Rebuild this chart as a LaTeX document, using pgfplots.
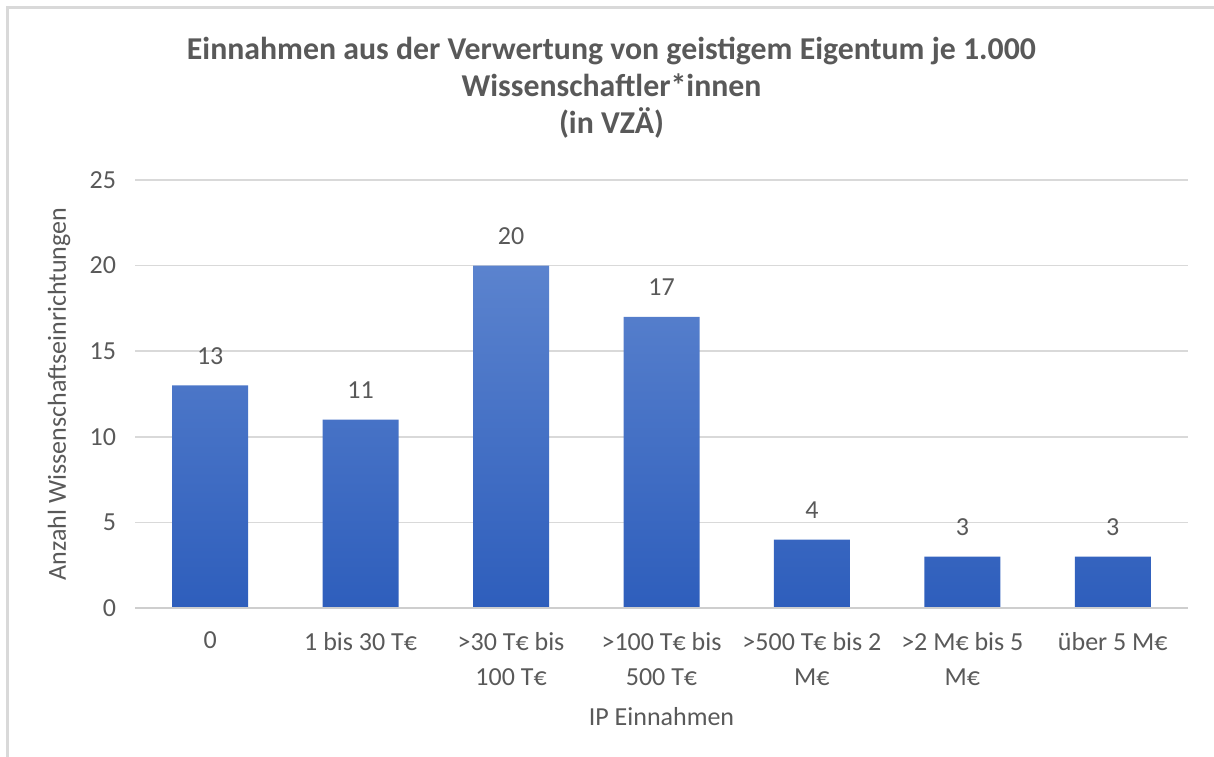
\documentclass[border=0pt]{standalone}
\usepackage{pgfplots}
\pgfplotsset{compat=1.18}
\usepackage{fontspec}
\setmainfont{Carlito}
\definecolor{txt}{HTML}{595959}
\definecolor{gridc}{HTML}{D9D9D9}
\definecolor{barTop}{HTML}{5B83CE}
\definecolor{barBot}{HTML}{2E5EBC}
\begin{document}
\begin{tikzpicture}
  \path[use as bounding box] (-67.5pt,-74pt) rectangle (539.5pt,304pt);
  \draw[gridc, line width=1.5pt] (-63.5pt,-80pt) -- (-63.5pt,300pt) -- (545pt,300pt);
  \begin{axis}[
    at={(0,0)}, anchor=south west,
    scale only axis, width=526.5pt, height=214pt,
    xmin=-0.5, xmax=6.5, ymin=0, ymax=25,
    ytick={0,5,...,25}, xtick=data,
    xticklabels={0, 1 bis 30 T€, {>30 T€ bis\\100 T€}, {>100 T€ bis\\500 T€}, {>500 T€ bis 2\\M€}, {>2 M€ bis 5\\M€}, über 5 M€},
    axis line style={draw=none}, major tick length=0pt,
    ymajorgrids, grid style={gridc, line width=0.8pt},
    tick label style={txt, font=\fontsize{13}{17.5}\selectfont},
    xticklabel style={align=center, anchor=north, yshift=-8.5pt},
    yticklabel style={xshift=-6pt},
    /pgf/number format/assume math mode=true,
    ylabel={Anzahl Wissenschaftseinrichtungen},
    ylabel style={txt, font=\fontsize{13}{15}\selectfont, at={(rel axis cs:0,0.5)}, yshift=38pt, anchor=center},
    xlabel={IP Einnahmen},
    xlabel style={txt, font=\fontsize{13}{15}\selectfont, at={(rel axis cs:0.5,0)}, yshift=-54.5pt, anchor=center},
    title={Einnahmen aus der Verwertung von geistigem Eigentum je 1.000\\Wissenschaftler*innen\\(in VZÄ)},
    title style={txt, font=\fontsize{15.9}{18.5}\selectfont\bfseries, align=center, at={(rel axis cs:0.5,1)}, anchor=center, xshift=-25pt, yshift=40pt},
    nodes near coords,
    every node near coord/.append style={txt, font=\fontsize{13}{15}\selectfont, yshift=7pt},
  ]
    \addplot[ybar, bar width=38pt, draw=none, top color=barTop, bottom color=barBot]
      coordinates {(0,13) (1,11) (2,20) (3,17) (4,4) (5,3) (6,3)};
    \draw[gridc!80!black!60, line width=0.8pt] (rel axis cs:0,0) -- (rel axis cs:1,0);
  \end{axis}
\end{tikzpicture}
\end{document}
